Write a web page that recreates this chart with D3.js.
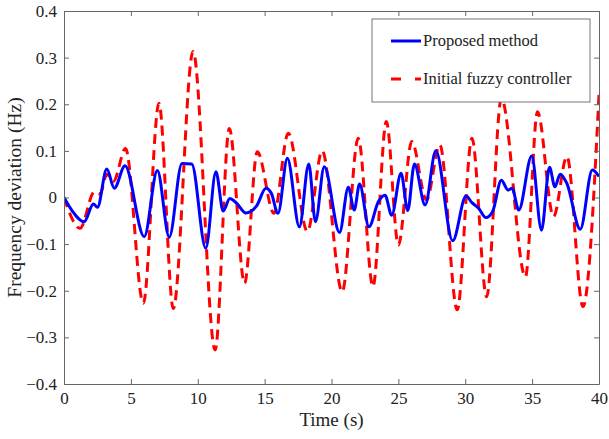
<!DOCTYPE html>
<html>
<head>
<meta charset="utf-8">
<script src="https://cdn.jsdelivr.net/npm/d3@7"></script>
<style>
  body { margin: 0; background: #fff; }
  svg { display: block; }
  svg text { font-family: "Liberation Serif", "Times New Roman", "DejaVu Serif", serif; }
</style>
</head>
<body>
<script>
// proposed method (blue solid)
const proposedTime = [0, 0.6, 1.5, 2.2, 2.5, 3.2, 3.76, 4.56, 6.0, 6.98, 7.87, 8.82, 9.55, 10.6, 11.36, 11.9, 12.4, 12.9, 13.6, 14.4,
  15.1, 15.5, 16.0, 16.7, 17.6, 18.3, 18.8, 19.46, 20.6, 21.26, 21.7, 22.1, 22.8, 23.5, 24.0, 24.5, 25.2, 25.7, 26.2, 27.0,
  27.8, 29.06, 30.06, 30.5, 31.0, 31.55, 32.05, 32.7, 33.2, 33.5, 34.0, 34.97, 35.7, 36.3, 36.7, 37.1, 37.6, 38.6, 39.5, 40];
const proposedFreq = [0, -0.028, -0.052, -0.014, -0.021, 0.061, 0.02, 0.068, -0.084, 0.058, -0.085, 0.073, 0.072, -0.109, 0.055, -0.029, -0.002, -0.012, -0.033, -0.018,
  0.02, 0.009, -0.034, 0.084, -0.063, 0.072, -0.052, 0.066, -0.075, 0.022, -0.027, 0.029, -0.063, -0.009, 0.005, -0.038, 0.052, -0.028, 0.072, -0.016,
  0.1, -0.093, 0.003, -0.011, -0.023, -0.043, -0.03, 0.037, 0.016, 0.02, -0.027, 0.089, -0.07, 0.065, 0.023, 0.05, 0.03, -0.068, 0.059, 0.045];

// initial fuzzy controller (red dashed)
const fuzzyTime = [0, 1.2, 2.27, 2.7, 3.2, 3.7, 4.6, 5.93, 7.1, 8.17, 9.65, 11.3, 12.36, 13.5, 14.45, 15.7, 16.77, 18.2, 19.3, 20.8,
  22.0, 23.1, 24.1, 25.0, 26.0, 27.1, 28.1, 29.4, 30.5, 31.6, 32.7, 34.5, 35.4, 36.6, 37.6, 38.8, 40];
const fuzzyFreq = [0, -0.066, 0.012, 0.008, 0.05, 0.035, 0.105, -0.227, 0.202, -0.238, 0.313, -0.327, 0.148, -0.184, 0.098, -0.034, 0.138, -0.073, 0.1, -0.202,
  0.127, -0.191, 0.163, -0.102, 0.12, -0.005, 0.113, -0.241, 0.127, -0.213, 0.213, -0.17, 0.184, -0.041, 0.088, -0.234, 0.22];

const xTicks = [0, 5, 10, 15, 20, 25, 30, 35, 40];
const yTicks = [-0.4, -0.3, -0.2, -0.1, 0, 0.1, 0.2, 0.3, 0.4];
const legendLabels = ["Proposed method", "Initial fuzzy controller"];

const w = 609, h = 439;
const mLeft = 64, mRight = 599, mTop = 11, mBottom = 384;
const axisColor = "#666";
const serif = "'Liberation Serif', 'Times New Roman', 'DejaVu Serif', serif";

const svg = d3.select("body").append("svg").attr("width", w).attr("height", h);

const x = d3.scaleLinear().domain([0, 40]).range([mLeft, mRight]);
const y = d3.scaleLinear().domain([-0.4, 0.4]).range([mBottom, mTop]);

svg.append("clipPath").attr("id", "plot-clip")
  .append("rect").attr("x", mLeft).attr("y", mTop)
  .attr("width", mRight - mLeft).attr("height", mBottom - mTop);

const line = d3.line()
  .x((d) => x(d[0]))
  .y((d) => y(d[1]))
  .curve(d3.curveMonotoneX);

const plot = svg.append("g").attr("clip-path", "url(#plot-clip)");

plot.append("path")
  .datum(fuzzyTime.map((t, i) => [t, fuzzyFreq[i]]))
  .attr("fill", "none")
  .attr("stroke", "#ff0000")
  .attr("stroke-width", 3)
  .attr("stroke-dasharray", "10,6")
  .attr("d", line);

plot.append("path")
  .datum(proposedTime.map((t, i) => [t, proposedFreq[i]]))
  .attr("fill", "none")
  .attr("stroke", "#0000ff")
  .attr("stroke-width", 3)
  .attr("d", line);

// axes with inward ticks on all four sides
const styleAxis = (g) => {
  g.attr("font-family", serif);
  g.select(".domain").attr("stroke", axisColor);
  g.selectAll(".tick line").attr("stroke", axisColor);
  g.selectAll(".tick text").attr("fill", "#222").attr("font-size", 17);
};

svg.append("g")
  .attr("transform", `translate(0,${mBottom})`)
  .call(d3.axisBottom(x).tickValues(xTicks).tickSizeInner(-5).tickSizeOuter(0).tickPadding(8).tickFormat(d3.format("d")))
  .call(styleAxis);

svg.append("g")
  .attr("transform", `translate(${mLeft},0)`)
  .call(d3.axisLeft(y).tickValues(yTicks).tickSizeInner(-5).tickSizeOuter(0).tickPadding(7).tickFormat((d) => d === 0 ? "0" : d3.format(".1f")(d)))
  .call(styleAxis);

svg.append("g")
  .attr("transform", `translate(0,${mTop})`)
  .call(d3.axisTop(x).tickValues(xTicks).tickSizeInner(-5).tickSizeOuter(0).tickFormat(""))
  .call(styleAxis);

svg.append("g")
  .attr("transform", `translate(${mRight},0)`)
  .call(d3.axisRight(y).tickValues(yTicks).tickSizeInner(-5).tickSizeOuter(0).tickFormat(""))
  .call(styleAxis);

// axis titles
svg.append("text")
  .attr("x", (mLeft + mRight) / 2)
  .attr("y", 426)
  .attr("text-anchor", "middle")
  .attr("font-family", serif)
  .attr("font-size", 19)
  .attr("fill", "#222")
  .text("Time (s)");

svg.append("text")
  .attr("transform", `translate(21,${(mTop + mBottom) / 2}) rotate(-90)`)
  .attr("text-anchor", "middle")
  .attr("font-family", serif)
  .attr("font-size", 19.5)
  .attr("fill", "#222")
  .text("Frequency deviation (Hz)");

// legend
const legend = svg.append("g").attr("font-family", serif);
legend.append("rect")
  .attr("x", 372).attr("y", 19).attr("width", 218).attr("height", 83)
  .attr("fill", "#fff").attr("stroke", "#777").attr("stroke-width", 1);

const legendStyles = [
  { color: "#0000ff", dash: null },
  { color: "#ff0000", dash: "10,14" },
];

legendLabels.forEach((label, i) => {
  const ly = 41 + i * 38;
  legend.append("line")
    .attr("x1", 391).attr("x2", 421).attr("y1", ly).attr("y2", ly)
    .attr("stroke", legendStyles[i].color)
    .attr("stroke-width", 3)
    .attr("stroke-dasharray", legendStyles[i].dash);
  legend.append("text")
    .attr("x", 423).attr("y", ly + 5)
    .attr("font-size", 16.5)
    .attr("fill", "#222")
    .text(label);
});
</script>
</body>
</html>
